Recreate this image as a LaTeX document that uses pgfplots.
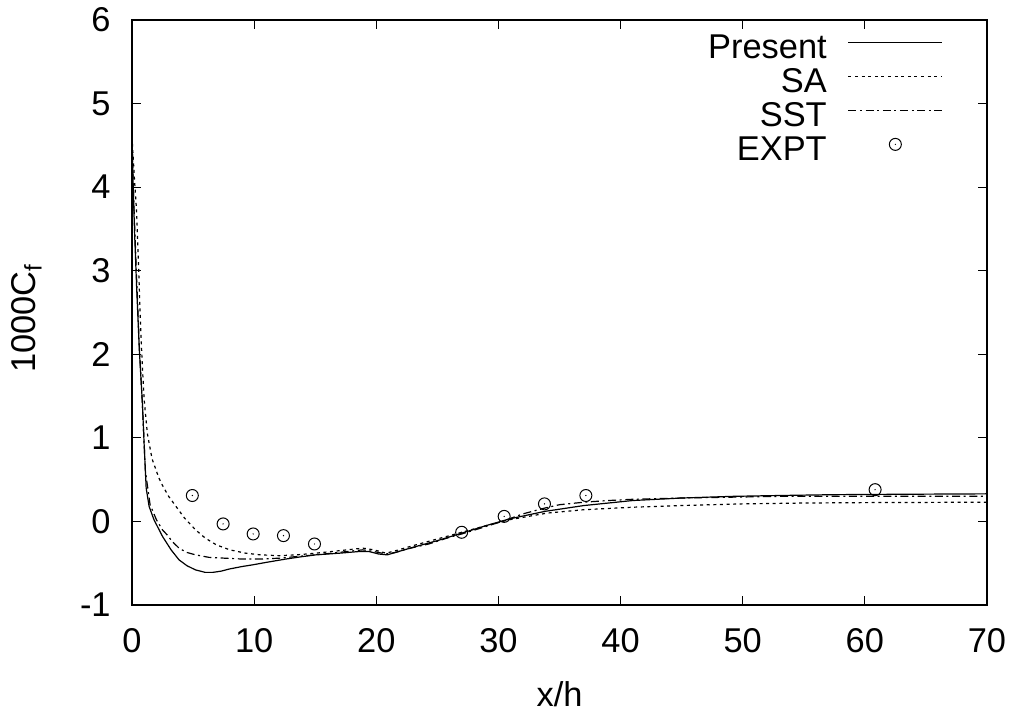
\documentclass[border=0pt]{standalone}
\usepackage{fontspec}
\setmainfont{Liberation Sans}
\usepackage{pgfplots}
\pgfplotsset{compat=1.18}
\pgfdeclareplotmark{odot}{%
  \pgfpathcircle{\pgfpointorigin}{\pgfplotmarksize}\pgfusepathqstroke
  \pgfpathcircle{\pgfpointorigin}{0.35pt}\pgfusepathqfill}
\pgfplotsset{
  linelegend/.style={legend image code/.code={\draw[##1] (0pt,4.3pt) -- (47pt,4.3pt);}},
  marklegend/.style={legend image code/.code={\path (0pt,4.3pt) (47pt,4.3pt); \draw[##1] plot coordinates {(23.5pt,4.3pt)};}},
}
\begin{document}
\begin{tikzpicture}
\useasboundingbox (0,0) rectangle (509pt,357.5pt);
\begin{axis}[
  at={(66pt,55pt)}, anchor=south west,
  scale only axis, width=427.5pt, height=292.5pt,
  xmin=0, xmax=70, ymin=-1, ymax=6,
  xtick={0,10,...,70}, ytick={-1,0,...,6},
  tick align=inside, major tick length=4.5pt,
  axis line style={line width=0.8pt}, every tick/.style={line width=0.6pt, black},
  font=\fontsize{17.2}{20}\selectfont,
  /pgf/number format/assume math mode=true,
  xticklabel style={anchor=base, inner sep=0pt, yshift=-24pt},
  yticklabel style={anchor=east, inner sep=0pt, xshift=-10.5pt},
  xlabel={x/h},
  xlabel style={at={(axis description cs:0.5,-0.1738)}, anchor=base},
  ylabel={1000C\textsubscript{f}},
  ylabel style={at={(axis description cs:-0.1123,0.49)}, anchor=base},
  legend cell align=right,
  legend plot pos=right,
  legend style={draw=none, fill=none, inner sep=0pt, outer sep=0pt,
    at={(axis description cs:0.9485,0.9761)}, anchor=north east,
    column sep=10.5pt, row sep=0pt,
    nodes={inner sep=0pt, text height=12.5pt, text depth=4.5pt},
    font=\fontsize{17.2}{20}\selectfont},
]
\addplot[black, line width=0.6pt, linelegend] coordinates {
(0,4.6) (0.07,4.17) (0.2,3.5) (0.38,2.8) (0.6,2.05) (0.85,1.42) (1.0,0.9) (1.16,0.40)
(1.4,0.18) (1.8,0.02) (2.5,-0.18) (3.2,-0.34) (3.85,-0.46) (4.5,-0.53) (5.2,-0.58)
(6.0,-0.61) (6.6,-0.61) (7.3,-0.595) (7.95,-0.57) (9.0,-0.54) (9.86,-0.52) (11,-0.49) (12.6,-0.45)
(14,-0.42) (15.05,-0.40) (17,-0.38) (18.6,-0.36) (19.4,-0.36) (20.2,-0.39) (20.9,-0.40)
(21.6,-0.37) (23,-0.31) (25,-0.23) (27,-0.14) (29,-0.05) (30.9,0.03) (33.8,0.12)
(37,0.19) (41,0.25) (45,0.28) (49.2,0.30) (53,0.31) (57.4,0.32) (63,0.325) (70,0.33)};
\addlegendentry{Present}
\addplot[black, line width=0.6pt, dash pattern=on 1.5pt off 1.8pt, linelegend] coordinates {
(0,4.6) (0.2,4.1) (0.38,3.7) (0.55,3.0) (0.7,2.35) (0.85,1.85) (1.0,1.45) (1.26,1.05)
(1.64,0.75) (2.2,0.52) (2.5,0.43) (3.0,0.30) (3.6,0.18) (4.3,0.04) (5.2,-0.10)
(6.0,-0.20) (6.9,-0.28) (8.0,-0.34) (9.3,-0.38) (10.5,-0.40) (12.05,-0.41) (13.5,-0.40)
(15.05,-0.38) (17,-0.35) (18.9,-0.32) (19.8,-0.34) (20.8,-0.38) (21.6,-0.35) (23,-0.29)
(25,-0.21) (27,-0.13) (29,-0.05) (30.9,0.02) (34,0.10) (37,0.14) (41,0.17) (45,0.19)
(50,0.21) (55,0.22) (60,0.225) (70,0.23)};
\addlegendentry{SA}
\addplot[black, line width=0.6pt, dash pattern=on 4pt off 1.8pt on 1pt off 1.8pt, linelegend] coordinates {
(0,4.6) (0.1,4.0) (0.38,2.9) (0.6,2.1) (0.85,1.4) (1.1,0.6) (1.48,0.2) (2.0,0.02)
(2.49,-0.10) (2.87,-0.16) (3.3,-0.24) (3.85,-0.32) (4.46,-0.37) (5.2,-0.40) (6.3,-0.43)
(7.6,-0.44) (9,-0.45) (10.5,-0.45) (12.05,-0.44) (13.5,-0.42) (15.05,-0.40) (17,-0.37)
(18.9,-0.34) (19.8,-0.36) (20.8,-0.39) (21.6,-0.37) (22.5,-0.33) (24.3,-0.27) (26,-0.19)
(27,-0.15) (29,-0.06) (30.5,0.01) (32,0.09) (33.8,0.16) (35,0.20) (37,0.23) (39,0.25)
(41,0.265) (45,0.28) (49,0.29) (53,0.30) (60,0.30) (70,0.30)};
\addlegendentry{SST}
\addplot[black, only marks, mark=odot, mark size=3pt, mark options={line width=0.5pt},
  marklegend] coordinates {
(4.94,0.31) (7.46,-0.03) (9.92,-0.15) (12.4,-0.17) (14.94,-0.27)
(26.99,-0.13) (30.47,0.06) (33.77,0.21) (37.16,0.31) (60.84,0.38)};
\addlegendentry{EXPT}
\end{axis}
\end{tikzpicture}
\end{document}
